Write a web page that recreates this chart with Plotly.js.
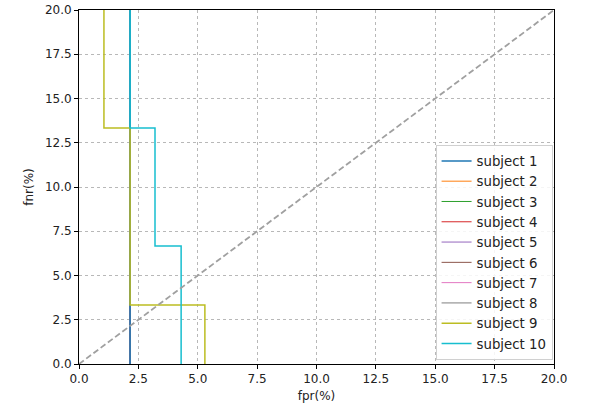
<!DOCTYPE html>
<html>
<head>
<meta charset="utf-8">
<script src="https://cdn.plot.ly/plotly-3.0.1.min.js"></script>
<style>html,body{margin:0;padding:0;background:#fff;}#chart{width:595px;height:408px;}</style>
</head>
<body>
<div id="chart"></div>
<script>
// Data (fpr %, fnr %) per subject
const subjects = ["subject 1","subject 2","subject 3","subject 4","subject 5","subject 6","subject 7","subject 8","subject 9","subject 10"];
const colors = ["#1f77b4","#ff7f0e","#2ca02c","#d62728","#9467bd","#8c564b","#e377c2","#7f7f7f","#bcbd22","#17becf"];
const fpr1 = [2.15, 2.15];
const fnr1 = [100, 0];
const fpr2 = [2.15, 2.15];
const fnr2 = [100, 0];
const fpr3 = [2.15, 2.15];
const fnr3 = [100, 0];
const fpr4 = [2.15, 2.15];
const fnr4 = [100, 0];
const fpr5 = [2.15, 2.15];
const fnr5 = [100, 0];
const fpr6 = [2.15, 2.15];
const fnr6 = [100, 0];
const fpr7 = [2.15, 2.15];
const fnr7 = [100, 0];
const fpr8 = [2.15, 2.15];
const fnr8 = [100, 0];
const fpr9 = [1.05, 1.05, 2.15, 2.15, 5.3, 5.3];
const fnr9 = [100, 13.33, 13.33, 3.33, 3.33, 0];
const fpr10 = [2.15, 2.15, 3.2, 3.2, 4.3, 4.3];
const fnr10 = [100, 13.33, 13.33, 6.67, 6.67, 0];
const chanceX = [0, 100];
const chanceY = [0, 100];
const xTicks = [0, 2.5, 5, 7.5, 10, 12.5, 15, 17.5, 20];
const yTicks = [0, 2.5, 5, 7.5, 10, 12.5, 15, 17.5, 20];

const xs = [fpr1,fpr2,fpr3,fpr4,fpr5,fpr6,fpr7,fpr8,fpr9,fpr10];
const ys = [fnr1,fnr2,fnr3,fnr4,fnr5,fnr6,fnr7,fnr8,fnr9,fnr10];

// drawing order: hidden subjects (2-8) first, then 1, 9, 10 on top; legend keeps 1..10 via legendrank
const drawOrder = [1,2,3,4,5,6,7,0,8,9];
const traces = drawOrder.map(i=>({
  x: xs[i], y: ys[i], name: subjects[i], type: 'scatter', mode: 'lines',
  legendrank: i + 1,
  line: {color: colors[i], width: (i >= 1 && i <= 7) ? 1.0 : 1.5}
}));
traces.push({x: chanceX, y: chanceY, type:'scatter', mode:'lines', showlegend:false,
  line:{color:'#a0a0a0', width:1.8, dash:'6px,3px'}, hoverinfo:'skip'});

const axisCommon = {
  showline: true, mirror: true, linecolor: '#000', linewidth: 1,
  ticks: 'outside', ticklen: 4, tickcolor: '#000', tickwidth: 1,
  showgrid: true, gridcolor: '#b8b8b8', griddash: '3px,3px', gridwidth: 1,
  zeroline: false, tickfont: {family: 'DejaVu Sans', size: 12, color: '#222'},
};
const layout = {
  width: 595, height: 408,
  margin: {l: 79, r: 41, t: 10, b: 44},
  paper_bgcolor: '#fff', plot_bgcolor: '#fff',
  font: {family: 'DejaVu Sans', color: '#222'},
  xaxis: Object.assign({}, axisCommon, {range: [0, 20], tickvals: xTicks, ticktext: xTicks.map(v=>v.toFixed(1)),
    title: {text: 'fpr(%)', font: {family:'DejaVu Sans', size: 12, color:'#222'}, standoff: 6}}),
  yaxis: Object.assign({}, axisCommon, {range: [0, 20], tickvals: yTicks, ticktext: yTicks.map(v=>v.toFixed(1)),
    title: {text: 'fnr(%)', font: {family:'DejaVu Sans', size: 12, color:'#222'}, standoff: 8}}),
  showlegend: true,
  legend: {x: 0.997, y: 0.012, xanchor: 'right', yanchor: 'bottom', traceorder: 'normal',
    bgcolor: 'rgba(255,255,255,0.85)', bordercolor: '#d0d0d0', borderwidth: 1,
    font: {family: 'DejaVu Sans', size: 13.3, color: '#222'}, itemwidth: 30, tracegroupgap: 0}
};
Plotly.newPlot('chart', traces, layout, {displayModeBar: false, staticPlot: true});
</script>
</body>
</html>
